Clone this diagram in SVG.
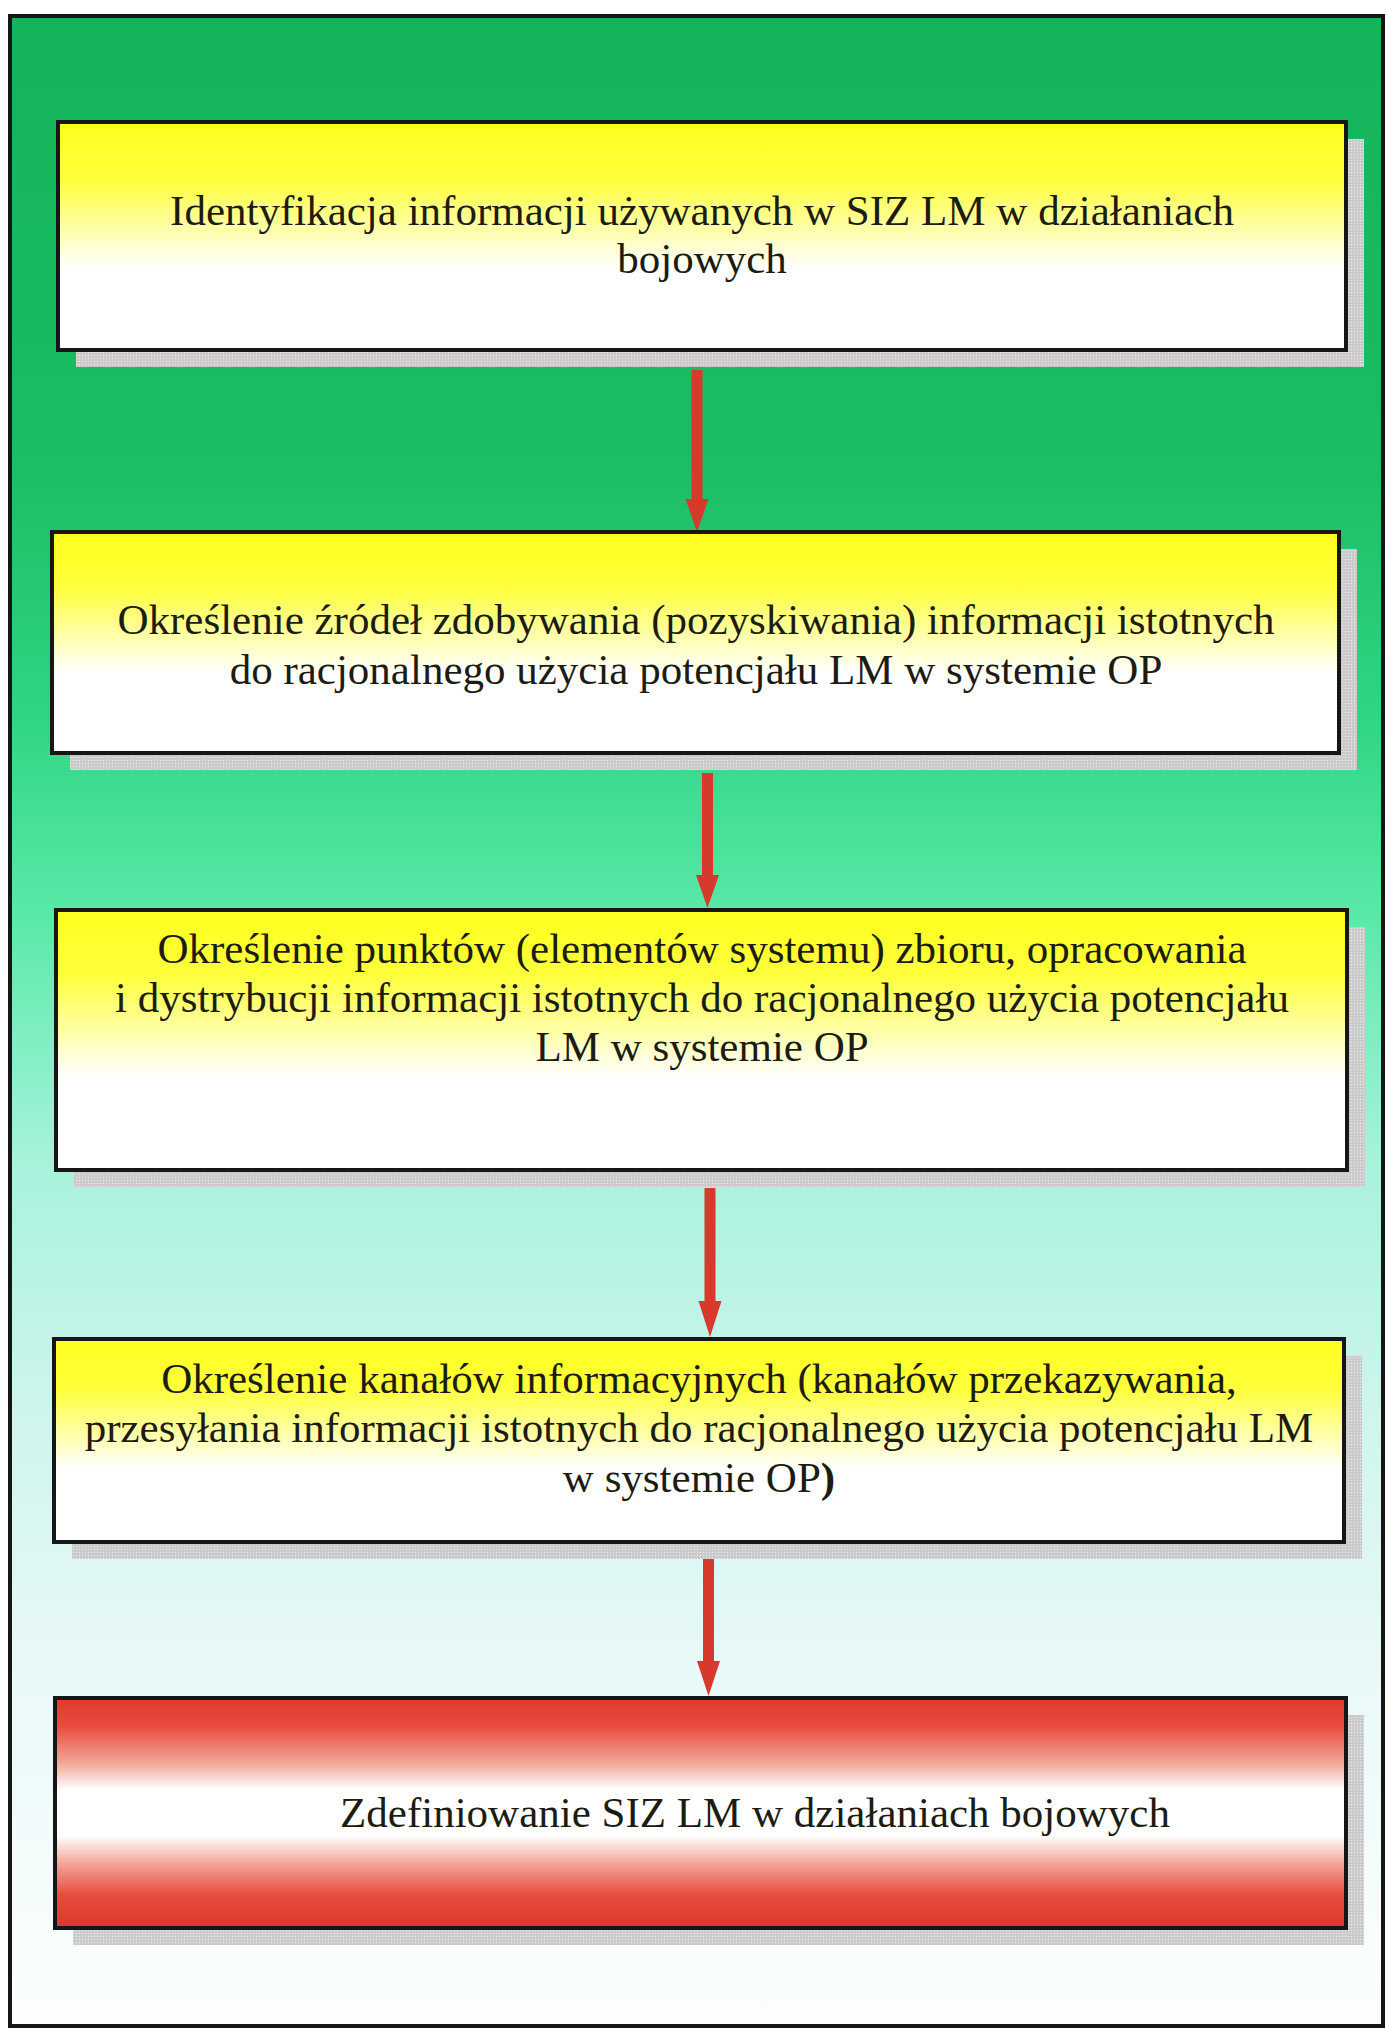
<svg xmlns="http://www.w3.org/2000/svg" width="1386" height="2035" viewBox="0 0 1386 2035">
<defs>
<linearGradient id="bg" x1="0" y1="0" x2="0" y2="1">
<stop offset="0" stop-color="#14b45a"/>
<stop offset="0.22" stop-color="#1abd62"/>
<stop offset="0.35" stop-color="#30d585"/>
<stop offset="0.45" stop-color="#5aeaa8"/>
<stop offset="0.57" stop-color="#a8f2dc"/>
<stop offset="0.7" stop-color="#cff5ee"/>
<stop offset="0.82" stop-color="#e8f8f8"/>
<stop offset="1" stop-color="#fdfefe"/>
</linearGradient>
<linearGradient id="yel" x1="0" y1="0" x2="0" y2="1">
<stop offset="0" stop-color="#ffff1e"/>
<stop offset="0.25" stop-color="#ffff3c"/>
<stop offset="0.64" stop-color="#ffffff"/>
<stop offset="1" stop-color="#ffffff"/>
</linearGradient>
<linearGradient id="red" x1="0" y1="0" x2="0" y2="1">
<stop offset="0" stop-color="#e03a2e"/>
<stop offset="0.12" stop-color="#e84a3e"/>
<stop offset="0.28" stop-color="#f2a596"/>
<stop offset="0.4" stop-color="#ffffff"/>
<stop offset="0.6" stop-color="#ffffff"/>
<stop offset="0.72" stop-color="#f2a596"/>
<stop offset="0.86" stop-color="#e84a3e"/>
<stop offset="1" stop-color="#dc382c"/>
</linearGradient>
<pattern id="dots" width="3" height="3" patternUnits="userSpaceOnUse">
<rect width="3" height="3" fill="#cbcbcb"/>
<rect x="1" y="1" width="1" height="1" fill="#ececec"/>
</pattern>
</defs>
<style>
.box{stroke:#161616;stroke-width:4}
.sh{fill:url(#dots)}
.t{font-family:"Liberation Serif","Times New Roman",serif;font-size:43px;fill:#1c1c12;text-anchor:middle}
.arr{fill:#d8392d}
</style>
<rect x="0" y="0" width="1386" height="2035" fill="#ffffff"/>
<rect id="frame" x="10" y="16" width="1373" height="2010" fill="url(#bg)" stroke="#161616" stroke-width="4"/>

<g id="connectors">
<rect class="arr" x="691.5" y="370" width="11" height="130"/>
<polygon class="arr" points="685.5,499 708.5,499 697,532"/>
<rect class="arr" x="702" y="773" width="11" height="103"/>
<polygon class="arr" points="696,875 719,875 707.5,908"/>
<rect class="arr" x="704.5" y="1188" width="11" height="114"/>
<polygon class="arr" points="698.5,1301 721.5,1301 710,1337"/>
<rect class="arr" x="703" y="1544" width="11" height="118"/>
<polygon class="arr" points="697,1661 720,1661 708.5,1696"/>
</g>

<g id="node1">
<rect class="sh" x="76" y="139" width="1288" height="228"/>
<rect class="box" x="58" y="122" width="1288" height="228" fill="url(#yel)"/>
<text class="t" x="702" y="225">Identyfikacja informacji używanych w SIZ LM w działaniach</text>
<text class="t" x="702" y="273">bojowych</text>
</g>

<g id="node2">
<rect class="sh" x="70" y="549" width="1287" height="221"/>
<rect class="box" x="52" y="532" width="1287" height="221" fill="url(#yel)"/>
<text class="t" x="696" y="634">Określenie źródeł zdobywania (pozyskiwania) informacji istotnych</text>
<text class="t" x="696" y="684">do racjonalnego użycia potencjału LM w systemie OP</text>
</g>

<g id="node3">
<rect class="sh" x="74" y="927" width="1291" height="260"/>
<rect class="box" x="56" y="910" width="1291" height="260" fill="url(#yel)"/>
<text class="t" x="702" y="963">Określenie punktów (elementów systemu) zbioru, opracowania</text>
<text class="t" x="702" y="1012">i dystrybucji informacji istotnych do racjonalnego użycia potencjału</text>
<text class="t" x="702" y="1061">LM w systemie OP</text>
</g>

<g id="node4">
<rect class="sh" x="72" y="1356" width="1290" height="203"/>
<rect class="box" x="54" y="1339" width="1290" height="203" fill="url(#yel)"/>
<text class="t" x="699" y="1393">Określenie kanałów informacyjnych (kanałów przekazywania,</text>
<text class="t" x="699" y="1442">przesyłania informacji istotnych do racjonalnego użycia potencjału LM</text>
<text class="t" x="699" y="1492">w systemie OP<tspan font-weight="bold">)</tspan></text>
</g>

<g id="node5">
<rect class="sh" x="73" y="1715" width="1291" height="230"/>
<rect class="box" x="55" y="1698" width="1291" height="230" fill="url(#red)"/>
<text class="t" x="755" y="1827">Zdefiniowanie SIZ LM w działaniach bojowych</text>
</g>
</svg>
